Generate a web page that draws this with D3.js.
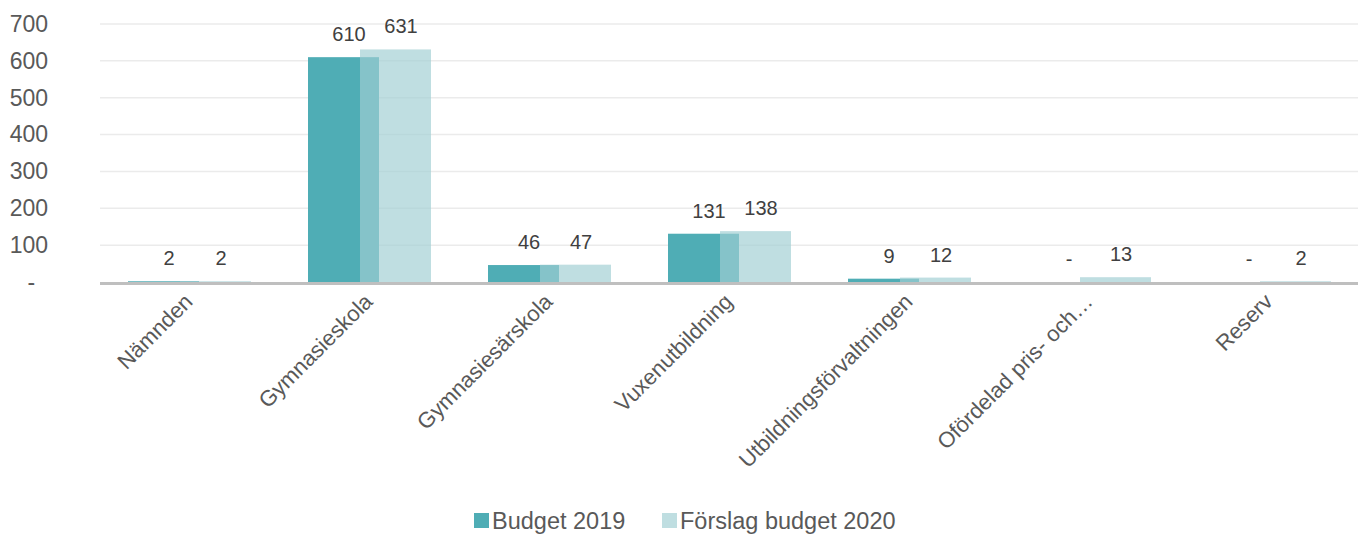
<!DOCTYPE html>
<html>
<head>
<meta charset="utf-8">
<script src="https://cdn.jsdelivr.net/npm/d3@7"></script>
<style>
  body { margin: 0; background: #fff; }
  svg { display: block; font-family: "Liberation Sans", Arial, sans-serif; }
</style>
</head>
<body>
<div id="chart"></div>
<script>
const categories = ["Nämnden", "Gymnasieskola", "Gymnasiesärskola", "Vuxenutbildning",
  "Utbildningsförvaltningen", "Ofördelad pris- och…", "Reserv"];
const seriesNames = ["Budget 2019", "Förslag budget 2020"];
const budget2019 = [2, 610, 46, 131, 9, 0, 0];
const budget2020 = [2, 631, 47, 138, 12, 13, 2];
const yTicks = [0, 100, 200, 300, 400, 500, 600, 700];

const width = 1358, height = 534;
const colors = ["#4FADB5", "rgb(160,206,210)"];
const opacities = [1, 0.67];

const svg = d3.select("#chart").append("svg")
  .attr("width", width)
  .attr("height", height);

const x = d3.scaleBand()
  .domain(categories)
  .range([100, 1360])
  .padding(0);

// position of each series bar relative to the category centre (bars overlap)
const xs = d3.scalePoint()
  .domain(seriesNames)
  .range([-62, -10]);
const barW = 71;

const y = d3.scaleLinear()
  .domain([0, 700])
  .range([282, 24]);

// grid lines
svg.append("g")
  .selectAll("line")
  .data(yTicks.slice(1))
  .enter().append("line")
  .attr("x1", 100).attr("x2", width)
  .attr("y1", d => y(d)).attr("y2", d => y(d))
  .attr("stroke", "#ebebeb")
  .attr("stroke-width", 1.5);

// y axis labels
const yAxis = svg.append("g")
  .attr("transform", "translate(48,0)")
  .call(d3.axisLeft(y).tickValues(yTicks).tickSize(0).tickPadding(0)
    .tickFormat(d => d === 0 ? "-\u2007" : d));
yAxis.select(".domain").remove();
yAxis.selectAll("text")
  .attr("fill", "#595959")
  .style("font-size", "23px")
  .style("font-family", "'Liberation Sans', Arial, sans-serif");

const rows = categories.map((c, i) => ({ cat: c, values: [budget2019[i], budget2020[i]] }));

// bars
seriesNames.forEach((s, si) => {
  svg.append("g")
    .selectAll("rect")
    .data(rows)
    .enter().append("rect")
    .attr("x", d => x(d.cat) + x.bandwidth() / 2 + xs(s))
    .attr("y", d => y(d.values[si]))
    .attr("width", barW)
    .attr("height", d => y(0) - y(d.values[si]))
    .attr("fill", colors[si])
    .attr("fill-opacity", opacities[si]);
});

// baseline
svg.append("line")
  .attr("x1", 100).attr("x2", width)
  .attr("y1", y(0) + 1.5).attr("y2", y(0) + 1.5)
  .attr("stroke", "#bfbfbf")
  .attr("stroke-width", 3);

// data labels
const labelOffsets = [-21, 31];
seriesNames.forEach((s, si) => {
  svg.append("g")
    .selectAll("text")
    .data(rows)
    .enter().append("text")
    .attr("x", d => x(d.cat) + x.bandwidth() / 2 + labelOffsets[si])
    .attr("y", d => y(d.values[si]) - 16)
    .attr("text-anchor", "middle")
    .attr("fill", "#404040")
    .style("font-size", "20px")
    .text(d => d.values[si] === 0 ? "-" : d.values[si]);
});

// category labels
svg.append("g")
  .selectAll("text")
  .data(categories)
  .enter().append("text")
  .attr("transform", d => "translate(" + (x(d) + x.bandwidth() / 2 + 4) + ",303) rotate(-45)")
  .attr("text-anchor", "end")
  .attr("fill", "#595959")
  .style("font-size", "22px")
  .text(d => d);

// legend
const legend = svg.append("g");
const legendX = [474, 662];
seriesNames.forEach((s, si) => {
  legend.append("rect")
    .attr("x", legendX[si]).attr("y", 513)
    .attr("width", 15).attr("height", 15)
    .attr("fill", colors[si])
    .attr("fill-opacity", opacities[si]);
  legend.append("text")
    .attr("x", legendX[si] + 18).attr("y", 529)
    .attr("fill", "#595959")
    .style("font-size", "23.5px")
    .text(s);
});
</script>
</body>
</html>
